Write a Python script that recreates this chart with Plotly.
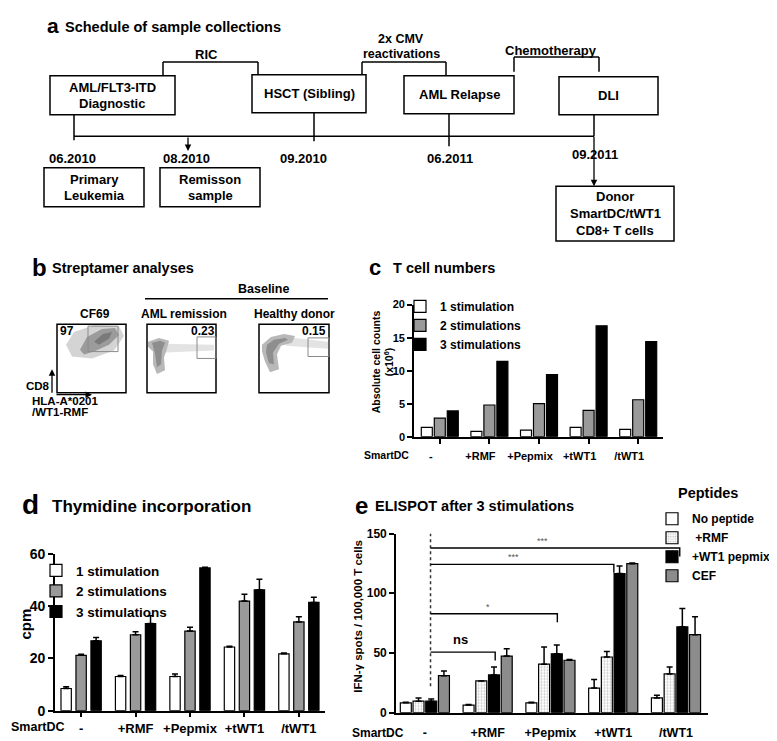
import plotly.graph_objects as go

W, H = 777, 741


def px(x):
    return x / W


def py(y):
    return 1 - y / H


groups = ["-", "+RMF", "+Pepmix", "+tWT1", "/tWT1"]
stim_names = ["1 stimulation", "2 stimulations", "3 stimulations"]
peptide_names = ["No peptide", " +RMF", "+WT1 pepmix", "CEF"]

# c - T cell numbers (x10^6)
c_stim1 = [1.4, 0.8, 1.0, 1.4, 1.1]
c_stim2 = [2.8, 4.8, 5.0, 4.0, 5.6]
c_stim3 = [3.9, 11.4, 9.4, 16.8, 14.4]

# d - thymidine incorporation (cpm), mean and upper error
d_stim1 = [8.5, 13.1, 13.1, 24.4, 21.8]
d_stim1_err = [0.7, 0.4, 1.0, 0.3, 0.3]
d_stim2 = [21.2, 29.1, 30.5, 42.0, 34.0]
d_stim2_err = [0.4, 1.1, 1.5, 2.6, 2.0]
d_stim3 = [26.8, 33.4, 54.7, 46.3, 41.5]
d_stim3_err = [1.2, 3.0, 0.3, 4.1, 2.0]

# e - ELISPOT, IFN-g spots / 100,000 T cells
e_none = [8.2, 6.3, 8.2, 20.6, 12.3]
e_none_err = [0.5, 0.5, 0.5, 7.1, 2.3]
e_rmf = [9.6, 26.6, 40.6, 46.6, 32.4]
e_rmf_err = [2.7, 0.0, 14.3, 4.7, 5.8]
e_wt1 = [9.6, 31.6, 49.3, 116.5, 71.9]
e_wt1_err = [1.9, 6.6, 7.4, 6.4, 15.3]
e_cef = [31.0, 47.4, 43.9, 124.8, 65.3]
e_cef_err = [3.9, 6.1, 0.7, 0.5, 15.1]

# e - significance brackets from the "-" group
sig_labels = ["ns", "*", "***", "***"]
sig_end = [1.12, 2.11, 3.01, 4.06]
sig_level = [50.7, 82.8, 124.2, 137.9]

SANS = "Liberation Sans, Arial"

fig = go.Figure()


def offsets(n, pitch, width):
    return [(i - n / 2) * pitch + (pitch - width) / 2 for i in range(n)]


# ---- panel c bars
c_series = [c_stim1, c_stim2, c_stim3]
c_colors = ["white", "#9a9a9a", "black"]
for i, off in enumerate(offsets(3, 0.262, 0.222)):
    fig.add_trace(go.Bar(x=groups, y=c_series[i], name=stim_names[i],
                         offset=off, width=0.222,
                         marker=dict(color=c_colors[i], line=dict(color="black", width=1.2)),
                         xaxis="x", yaxis="y", legend="legend"))

# ---- panel d bars
d_series = [d_stim1, d_stim2, d_stim3]
d_errs = [d_stim1_err, d_stim2_err, d_stim3_err]
for i, off in enumerate(offsets(3, 0.275, 0.19)):
    fig.add_trace(go.Bar(x=groups, y=d_series[i], name=stim_names[i],
                         offset=off, width=0.19,
                         marker=dict(color=c_colors[i], line=dict(color="black", width=1.2)),
                         error_y=dict(type="data", array=d_errs[i], arrayminus=[0] * 5,
                                      symmetric=False, color="black", thickness=1.5, width=3),
                         xaxis="x2", yaxis="y2", legend="legend2"))

# ---- panel e bars
e_series = [e_none, e_rmf, e_wt1, e_cef]
e_errs = [e_none_err, e_rmf_err, e_wt1_err, e_cef_err]
e_markers = [
    dict(color="white", line=dict(color="black", width=1.2)),
    dict(color="white", line=dict(color="black", width=1.2),
         pattern=dict(shape=".", fgcolor="#8a8a8a", bgcolor="white", size=3, solidity=0.35)),
    dict(color="black", line=dict(color="black", width=1.2)),
    dict(color="#8c8c8c", line=dict(color="black", width=1.2)),
]
for i, off in enumerate(offsets(4, 0.2025, 0.175)):
    fig.add_trace(go.Bar(x=groups, y=e_series[i], name=peptide_names[i],
                         offset=off, width=0.175, marker=e_markers[i],
                         error_y=dict(type="data", array=e_errs[i], arrayminus=[0] * 5,
                                      symmetric=False, color="black", thickness=1.5, width=3),
                         xaxis="x3", yaxis="y3", legend="legend3"))

axis_common = dict(showline=True, linecolor="black", linewidth=1.6, showgrid=False,
                   zeroline=False, ticks="outside", tickcolor="black", tickwidth=1.6,
                   ticklen=5, fixedrange=True, tickangle=0)

fig.update_layout(
    width=W, height=H,
    margin=dict(l=0, r=0, t=0, b=0),
    paper_bgcolor="white", plot_bgcolor="rgba(0,0,0,0)",
    barmode="overlay",
    font=dict(family=SANS, color="black"),
    xaxis=dict(axis_common, domain=[px(406), px(655)], anchor="y", range=[-0.52, 4.5],
               tickfont=dict(size=11, weight="bold"), ticklabelshift=-9,
               ticklabelstandoff=3),
    yaxis=dict(axis_common, domain=[py(430), py(295)], anchor="x", range=[0, 20],
               tickvals=[0, 5, 10, 15, 20], tickfont=dict(size=11, weight="bold")),
    xaxis2=dict(axis_common, domain=[px(47), px(317)], anchor="y2", range=[-0.48, 4.48],
                tickfont=dict(size=13, weight="bold")),
    yaxis2=dict(axis_common, domain=[py(710), py(550)], anchor="x2", range=[0, 60],
                tickvals=[0, 20, 40, 60], tickfont=dict(size=14, weight="bold")),
    xaxis3=dict(axis_common, domain=[px(388), px(700)], anchor="y3", range=[-0.46, 4.51],
                ticks="", ticklabelstandoff=8, tickfont=dict(size=12.5, weight="bold")),
    yaxis3=dict(axis_common, domain=[py(712), py(529)], anchor="x3", range=[0, 150],
                tickvals=[0, 50, 100, 150], tickfont=dict(size=12, weight="bold")),
    legend=dict(x=px(392), y=py(282), xanchor="left", yanchor="top",
                bgcolor="rgba(0,0,0,0)", font=dict(size=12, weight="bold")),
    legend2=dict(x=px(28), y=py(551), xanchor="left", yanchor="top",
                 bgcolor="rgba(0,0,0,0)", font=dict(size=13.5, weight="bold")),
    legend3=dict(x=px(644), y=py(499), xanchor="left", yanchor="top",
                 bgcolor="rgba(0,0,0,0)", font=dict(size=12, weight="bold")),
    showlegend=True,
)

shapes = []
annotations = []


def text(x, y, s, size=14, anchor="center", color="black", bold=True, angle=0):
    annotations.append(dict(x=px(x), y=py(y), xref="paper", yref="paper", text=s,
                            showarrow=False, xanchor=anchor, yanchor="middle",
                            textangle=angle,
                            font=dict(family=SANS, size=size, color=color,
                                      weight="bold" if bold else "normal")))


def line(x0, y0, x1, y1, width=1.5, color="black", dash=None):
    shapes.append(dict(type="line", xref="paper", yref="paper", x0=px(x0), y0=py(y0),
                       x1=px(x1), y1=py(y1), line=dict(color=color, width=width, dash=dash)))


def rect(x0, y0, x1, y1, width=1.5, color="black"):
    shapes.append(dict(type="rect", xref="paper", yref="paper", x0=px(x0), y0=py(y0),
                       x1=px(x1), y1=py(y1), line=dict(color=color, width=width)))


def poly(points, fill, opacity=1.0):
    d = "M " + " L ".join(f"{px(a):.5f},{py(b):.5f}" for a, b in points) + " Z"
    shapes.append(dict(type="path", xref="paper", yref="paper", path=d,
                       fillcolor=fill, opacity=opacity, line=dict(width=0)))


def arrow(x0, y0, x1, y1):
    annotations.append(dict(x=px(x1), y=py(y1), xref="paper", yref="paper", text="",
                            showarrow=True, ax=x0 - x1, ay=y0 - y1, axref="pixel",
                            ayref="pixel", arrowhead=2, arrowsize=1, arrowwidth=1.3,
                            arrowcolor="black"))


# ---- panel a: schedule diagram
text(37, 10, "a", size=21, anchor="left")
text(55, 11, "Schedule of sample collections", size=14.5, anchor="left")

top_boxes = [
    ((42, 61, 167, 101), ["AML/FLT3-ITD", "Diagnostic"]),
    ((244, 60, 358, 99), ["HSCT (Sibling)"]),
    ((396, 61, 506, 100), ["AML Relapse"]),
    ((551, 62, 650, 101), ["DLI"]),
]
for (x0, y0, x1, y1), lines_ in top_boxes:
    rect(x0, y0, x1, y1)
    cy = (y0 + y1) / 2
    n = len(lines_)
    for k, s in enumerate(lines_):
        text((x0 + x1) / 2, cy + (k - (n - 1) / 2) * 16, s, size=13)

# brackets
line(155, 61, 155, 47); line(155, 47, 250, 47); line(250, 47, 250, 60)
text(198, 39, "RIC", size=13)
line(354, 60, 354, 47); line(354, 47, 438, 47); line(438, 47, 438, 61)
text(393, 24, "2x CMV", size=12.5)
text(393, 38.5, "reactivations", size=12.5)
line(506, 57, 506, 42); line(506, 42, 591, 42); line(591, 42, 591, 57)
text(543, 35, "Chemotherapy", size=13)

# timeline
line(66, 123, 586, 123)
line(66, 101, 66, 127)
line(306, 99, 306, 128)
line(441, 100, 441, 133)
line(586, 101, 586, 123)
arrow(180, 123, 180, 138)
arrow(586, 123, 586, 174)
for xx, yy, s in [(64, 146, "06.2010"), (178, 146, "08.2010"), (295, 146, "09.2010"),
                  (442, 146, "06.2011"), (587, 142, "09.2011")]:
    text(xx, yy, s, size=13)

bottom_boxes = [
    ((36, 155, 136, 195), ["Primary", "Leukemia"]),
    ((152, 155, 252, 195), ["Remisson", "sample"]),
    ((548, 174, 666, 230), ["Donor", "SmartDC/tWT1", "CD8+ T cells"]),
]
for (x0, y0, x1, y1), lines_ in bottom_boxes:
    rect(x0, y0, x1, y1)
    cy = (y0 + y1) / 2
    n = len(lines_)
    for k, s in enumerate(lines_):
        text((x0 + x1) / 2, cy + (k - (n - 1) / 2) * (16 if n == 2 else 17.5), s, size=13)

# ---- panel b: streptamer dot plots
text(22, 257, "b", size=24, anchor="left")
text(42, 258, "Streptamer analyses", size=14.5, anchor="left")
text(255, 279, "Baseline", size=12.5)
line(137, 289, 320, 289, width=1.3)
text(87, 305, "CF69", size=12)
text(176, 305, "AML remission", size=12)
text(286, 305, "Healthy donor", size=12)

# CF69 blob
poly([(58, 336), (66, 323), (86, 316), (111, 317), (116, 327), (106, 342), (84, 350), (64, 348)],
     "#d4d4d4")
poly([(72, 341), (79, 328), (94, 320), (107, 319), (111, 326), (101, 336), (86, 343), (76, 346)],
     "#9b9b9b")
poly([(86, 333), (95, 325), (104, 323), (101, 330), (91, 336)], "#7a7a7a")
# AML remission blob
poly([(157, 335), (206, 336), (206, 342), (157, 344)], "#e3e3e3")
poly([(140, 333), (151, 329), (161, 332), (159, 340), (156, 349), (157, 362), (149, 366),
      (145, 356), (145, 343), (140, 338)], "#b8b8b8")
poly([(144, 334), (152, 332), (157, 334), (154, 342), (153, 356), (149, 359), (147, 345)],
     "#8e8e8e")
# healthy donor blob
poly([(278, 328), (320, 333), (320, 340), (278, 337)], "#e3e3e3")
poly([(254, 336), (263, 328), (276, 325), (287, 327), (284, 334), (273, 337), (269, 346),
      (271, 361), (262, 364), (257, 353), (254, 343)], "#b8b8b8")
poly([(259, 336), (266, 331), (277, 329), (280, 331), (271, 335), (265, 344), (266, 356),
      (261, 355), (258, 344)], "#8e8e8e")

for (x0, x1) in [(49, 118), (139, 208), (251, 321)]:
    rect(x0, 315, x1, 385, width=1.5)
rect(80, 317, 110, 343, width=1, color="#8a8a8a")
rect(189, 328, 208, 350, width=1, color="#8a8a8a")
rect(300, 329, 321, 348, width=1, color="#8a8a8a")
text(59, 322, "97", size=12)
text(195, 322, "0.23", size=12)
text(306, 322, "0.15", size=12)

text(30, 378, "CD8", size=11.5)
arrow(44, 386, 44, 361)
arrow(47, 387, 84, 387)
text(22, 393, "HLA-A*0201", size=11.5, anchor="left")
text(22, 405, "/WT1-RMF", size=11.5, anchor="left")

# ---- panel c labels
text(367, 257, "c", size=22)
text(383, 258, "T cell numbers", size=14.5, anchor="left")
text(368, 354, "Absolute cell counts", size=10.5, angle=-90)
text(380, 354, "(x10<sup>6</sup>)", size=10.5, angle=-90)
text(378, 449, "SmartDC", size=10.5)

# ---- panel d labels
text(12, 499, "d", size=28, anchor="left")
text(42, 501, "Thymidine incorporation", size=17, anchor="left")
text(18, 622, "cpm", size=15, angle=-90)
text(1, 727, "SmartDC", size=12.5, anchor="left")

# ---- panel e labels
text(353, 500, "e", size=24)
text(365, 501, "ELISPOT after 3 stimulations", size=14.5, anchor="left")
text(668, 488, "Peptides", size=14.5, anchor="left")
text(350, 614, "IFN-γ spots / 100,000 T cells", size=11.5, angle=-90)
text(370, 733, "SmartDC", size=12)

# significance brackets (drawn in data coordinates of panel e)
shapes.append(dict(type="line", xref="x3", yref="y3", x0=0.09, x1=0.09, y0=22, y1=150,
                   line=dict(color="#333", width=1.5, dash="dot")))
for lab, xe, lv in zip(sig_labels, sig_end, sig_level):
    shapes.append(dict(type="path", xref="x3", yref="y3",
                       path=f"M 0.09,{lv} L {xe},{lv} L {xe},{lv - 7}",
                       line=dict(color="black", width=1.4)))
    small = lab != "ns"
    annotations.append(dict(x=0.09 + (xe - 0.09) * 0.45 if small else 0.57,
                            y=lv, xref="x3", yref="y3", text=lab, showarrow=False,
                            yanchor="bottom", yshift=0 if small else 3,
                            font=dict(family=SANS, size=9 if small else 13,
                                      color="#555" if small else "black",
                                      weight="normal" if small else "bold")))

fig.update_layout(shapes=shapes, annotations=annotations)
fig.write_html("out.html", config={"displayModeBar": False})
